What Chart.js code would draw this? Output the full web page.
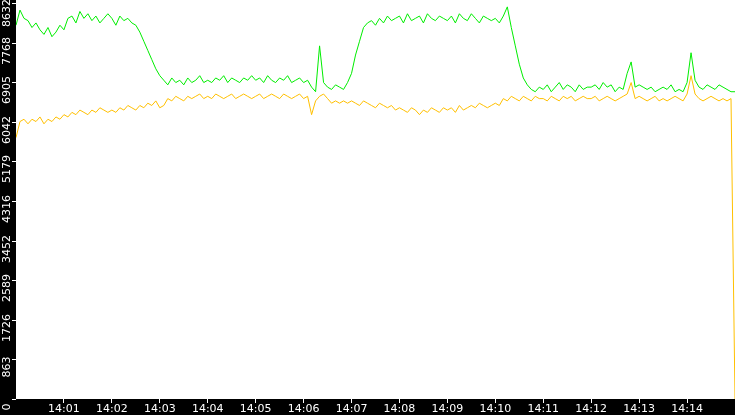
<!DOCTYPE html>
<html>
<head>
<meta charset="utf-8">
<script src="https://cdn.jsdelivr.net/npm/chart.js@4/dist/chart.umd.min.js"></script>
<style>html,body{margin:0;padding:0;background:#000;}</style>
</head>
<body>
<canvas id="myChart" width="735" height="415"></canvas>
<script>
// seconds after 14:00:00, one sample every 5 s
const times = [];
for (let t = 0; t <= 900; t += 5) times.push(t);

const greenValues = [
  8150,8480,8300,8250,8100,8200,8050,7950,8100,7900,8000,8150,
  8050,8300,8350,8200,8450,8300,8400,8250,8350,8200,8300,8400,
  8300,8150,8350,8250,8300,8200,8150,8000,7800,7600,7400,7200,
  7050,6950,6850,7000,6900,6950,6850,7000,6900,6950,7050,6900,
  6950,6900,7000,6950,7050,6900,7000,6950,6900,7000,6950,7050,
  6950,7000,6900,7050,6950,6900,7000,6950,7050,6900,6950,7000,
  6900,6950,6800,6700,7700,6900,6800,6750,6850,6800,6750,6900,
  7100,7500,7800,8100,8200,8250,8150,8300,8200,8350,8250,8300,
  8350,8200,8400,8250,8300,8350,8200,8400,8300,8250,8350,8300,
  8250,8350,8200,8400,8300,8250,8400,8300,8200,8350,8300,8250,
  8300,8200,8350,8550,8100,7700,7300,7000,6850,6750,6700,6800,
  6750,6850,6700,6800,6900,6750,6850,6800,6700,6850,6750,6800,
  6800,6850,6750,6900,6800,6850,6700,6800,6750,7100,7350,6800,
  6850,6800,6750,6800,6700,6750,6800,6750,6850,6700,6750,6700,
  6900,7550,6950,6800,6750,6850,6800,6750,6850,6800,6750,6700,
  6700
];

const orangeValues = [
  5700,6050,6100,6000,6100,6050,6150,6000,6100,6050,6150,6100,
  6200,6150,6250,6200,6300,6250,6200,6300,6250,6350,6300,6250,
  6300,6250,6350,6300,6400,6350,6300,6400,6350,6450,6400,6500,
  6350,6400,6550,6500,6600,6550,6500,6600,6550,6600,6650,6550,
  6600,6550,6650,6600,6550,6600,6650,6550,6600,6650,6600,6550,
  6600,6650,6550,6600,6650,6600,6550,6650,6600,6550,6600,6650,
  6550,6600,6200,6500,6600,6650,6550,6450,6500,6450,6500,6450,
  6500,6450,6400,6500,6450,6400,6350,6450,6400,6350,6400,6300,
  6350,6300,6250,6350,6300,6200,6300,6250,6350,6300,6250,6350,
  6300,6350,6250,6400,6300,6350,6400,6350,6450,6400,6350,6400,
  6450,6400,6550,6500,6600,6550,6500,6600,6550,6500,6600,6550,
  6550,6500,6600,6550,6500,6600,6550,6600,6500,6550,6600,6550,
  6550,6600,6500,6550,6600,6550,6500,6550,6600,6650,6900,6550,
  6600,6550,6500,6550,6600,6500,6550,6500,6550,6600,6550,6500,
  6650,7050,6650,6550,6500,6550,6600,6550,6500,6550,6500,6550,
  0
];

const yTicks = [0, 863, 1726, 2589, 3452, 4316, 5179, 6042, 6905, 7768, 8632];
const xTicks = [60, 120, 180, 240, 300, 360, 420, 480, 540, 600, 660, 720, 780, 840];
const xLabels = ["14:01","14:02","14:03","14:04","14:05","14:06","14:07","14:08","14:09","14:10","14:11","14:12","14:13","14:14"];

const toPoints = vals => vals.map((v, i) => ({ x: times[i], y: v }));

const background = {
  id: "background",
  beforeDraw(chart) {
    const c = chart.ctx, a = chart.chartArea;
    c.save();
    c.fillStyle = "#000";
    c.fillRect(0, 0, chart.width, chart.height);
    c.fillStyle = "#fff";
    c.fillRect(a.left, a.top, a.right - a.left, a.bottom - a.top);
    c.restore();
  },
  afterDraw(chart) {
    // rotated y labels
    const c = chart.ctx, y = chart.scales.y, a = chart.chartArea;
    c.save();
    c.fillStyle = "#fff";
    c.strokeStyle = "#fff";
    c.font = "11px 'DejaVu Sans'";
    c.textAlign = "center";
    c.textBaseline = "middle";
    yTicks.forEach(v => {
      const py = Math.round(y.getPixelForValue(v));
      c.beginPath();
      c.moveTo(a.left - 4, py + 0.5);
      c.lineTo(a.left, py + 0.5);
      c.stroke();
      c.save();
      c.translate(7, Math.max(py + 8, 13));
      c.rotate(-Math.PI / 2);
      c.fillText(String(v), 0, 0);
      c.restore();
    });
    c.restore();
  }
};

const ctx = document.querySelector("#myChart").getContext("2d");
const myChart = new Chart(ctx, {
  type: "line",
  data: {
    datasets: [
      { data: toPoints(greenValues), borderColor: "#00ee00", borderWidth: 1, pointRadius: 0, tension: 0 },
      { data: toPoints(orangeValues), borderColor: "#ffc000", borderWidth: 1, pointRadius: 0, tension: 0 }
    ]
  },
  options: {
    responsive: false,
    devicePixelRatio: 1,
    animation: false,
    layout: { padding: 0 },
    plugins: { legend: { display: false }, tooltip: { enabled: false } },
    scales: {
      x: {
        type: "linear",
        min: 0,
        max: 900,
        afterBuildTicks: s => { s.ticks = xTicks.map(v => ({ value: v })); },
        ticks: {
          color: "#fff",
          font: { family: "DejaVu Sans", size: 11 },
          padding: 0,
          maxRotation: 0,
          callback: (v) => xLabels[xTicks.indexOf(v)]
        },
        grid: { drawOnChartArea: false, color: "#fff", tickLength: 4 },
        border: { display: false },
        afterFit: s => { s.height = 16; }
      },
      y: {
        min: 0,
        max: 8700,
        ticks: { display: false },
        grid: { display: false },
        border: { display: false },
        afterFit: s => { s.width = 16; }
      }
    }
  },
  plugins: [background]
});
</script>
</body>
</html>
